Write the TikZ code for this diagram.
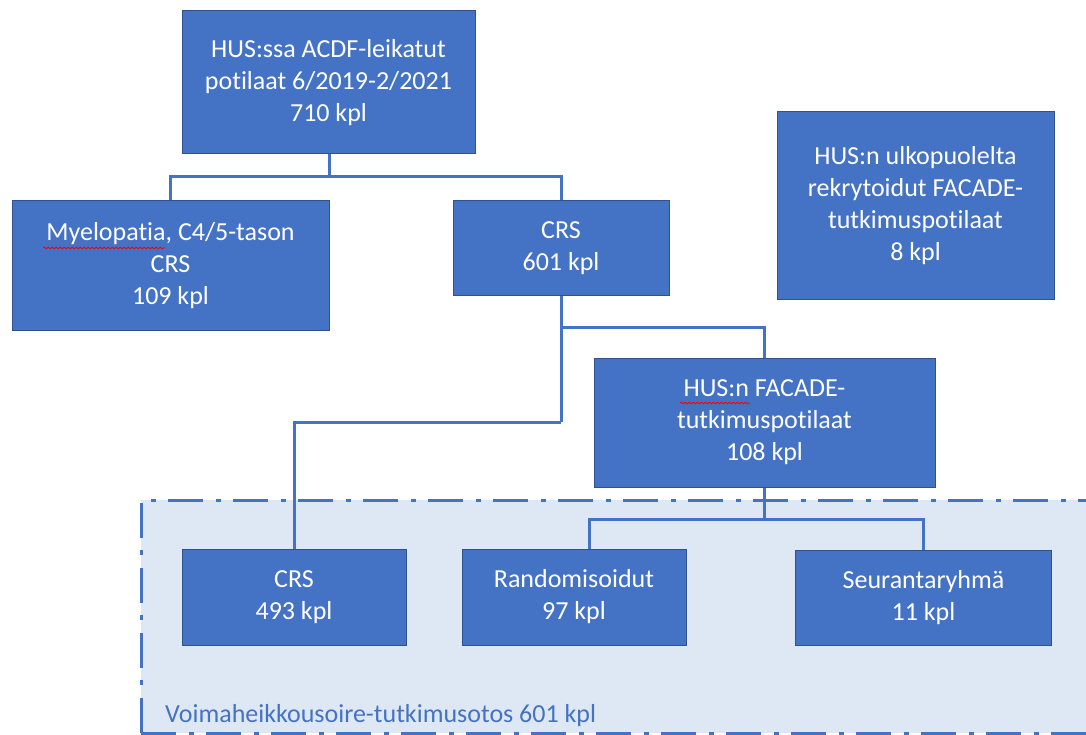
\documentclass[tikz,border=0pt]{standalone}
\usepackage{fontspec}
\setmainfont[RawFeature=-liga]{Carlito}
\usetikzlibrary{decorations.pathmorphing}
\definecolor{boxblue}{HTML}{4472C4}
\definecolor{boxedge}{HTML}{2F528F}
\definecolor{regionfill}{HTML}{DEE8F5}
\pgfdeclarelayer{regionlayer}
\pgfdeclarelayer{connlayer}
\pgfsetlayers{regionlayer,connlayer,main}
\tikzset{
  stepbox/.style={draw=boxedge, line width=1pt, fill=boxblue, text=white, align=center,
    inner sep=0pt, font=\fontsize{26}{32}\selectfont},
  conn/.style={draw=boxblue, line width=3pt},
  regionedge/.style={boxblue, line width=3pt, dash pattern=on 35pt off 13pt on 5pt off 12pt},
  squig/.style={draw=red, line width=0.8pt, decorate, decoration={snake, amplitude=0.9pt, segment length=4pt}},
}
\begin{document}
\begin{tikzpicture}[x=1pt,y=-1pt]
\useasboundingbox (0,0) rectangle (1086,735);
% region
\begin{pgfonlayer}{regionlayer}
\fill[regionfill] (141,500) rectangle (1110,733);
\draw[regionedge] (141,733) -- (141,500) -- (1110,500);
\draw[regionedge] (141,733) -- (1110,733);
\end{pgfonlayer}
\node[anchor=base west, text=boxblue, font=\fontsize{26}{32}\selectfont, inner sep=0pt] (reglabel) at (165,722) {Voimaheikkousoire-tutkimusotos 601 kpl};

% nodes
\node[stepbox, minimum width=293pt, minimum height=143pt] (top) at (328.5,82.5) {HUS:ssa ACDF-leikatut\\potilaat 6/2019-2/2021\\710 kpl};
\node[stepbox, minimum width=317pt, minimum height=129pt] (myelo) at (170.5,265.5) {Myelopatia, C4/5-tason\\CRS\\109 kpl};
\node[stepbox, minimum width=216pt, minimum height=94pt] (crsa) at (561,248) {CRS\\601 kpl};
\node[stepbox, minimum width=277pt, minimum height=187pt] (ulko) at (915.5,205.5) {HUS:n ulkopuolelta\\rekrytoidut FACADE-\\tutkimuspotilaat\\8 kpl};
\node[stepbox, minimum width=341pt, minimum height=129pt] (facade) at (764.5,422.5) {HUS:n FACADE-\\tutkimuspotilaat\\108 kpl};
\node[stepbox, minimum width=224pt, minimum height=96pt] (crsb) at (294,597) {CRS\\493 kpl};
\node[stepbox, minimum width=224pt, minimum height=96pt] (rand) at (574,597) {Randomisoidut\\97 kpl};
\node[stepbox, minimum width=256pt, minimum height=95pt] (seur) at (923.5,598) {Seurantaryhmä\\11 kpl};

% junctions
\coordinate (j1) at (329,177);
\coordinate (j2) at (561,327);
\coordinate (j3) at (561,422);
\coordinate (j4) at (764,519);
\coordinate (j5) at (589,519);

% connectors (behind boxes)
\begin{pgfonlayer}{connlayer}
\draw[conn] (top.south -| j1) -- (j1);
\draw[conn] (myelo.north) |- (j1) -| (crsa.north);
\draw[conn] (crsa.south) -- (j3);
\draw[conn] (j2) -| (facade.north);
\draw[conn] (crsb.north) |- (j3);
\draw[conn] (facade.south -| j4) -- (j4);
\draw[conn] (rand.north -| j5) |- (j4) -| (seur.north);
\end{pgfonlayer}

% spell-check squiggles
\draw[squig] (43,248) -- (165,248);
\draw[squig] (680,403) -- (750,403);
\end{tikzpicture}
\end{document}
